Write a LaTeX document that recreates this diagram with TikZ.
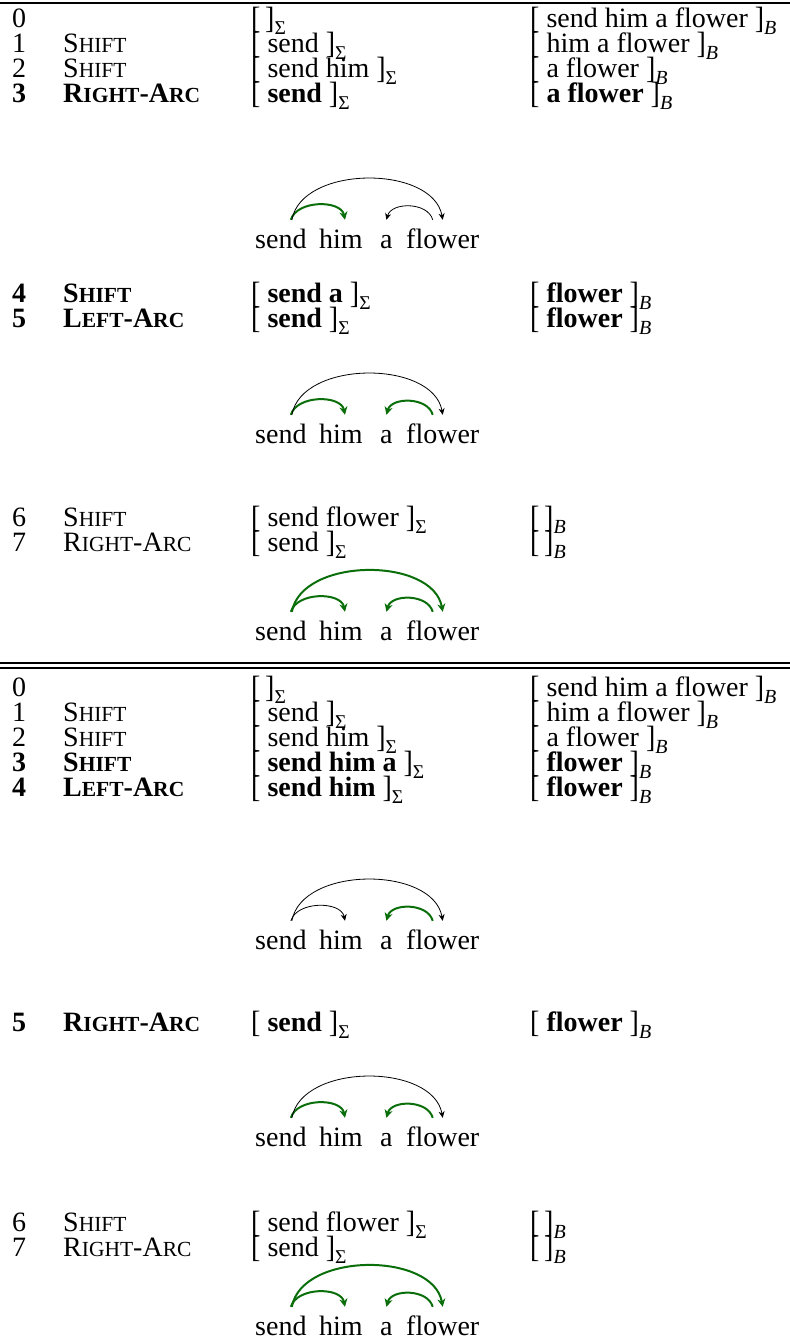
\documentclass[tikz,border=0pt]{standalone}
\usepackage{fontspec}
\setmainfont{Liberation Serif}
\usetikzlibrary{arrows.meta}

\definecolor{arcgreen}{RGB}{10,110,10}

% faked small capitals for the transition names
\newcommand\lsc[1]{{\fontsize{21.5pt}{21.5pt}\selectfont #1}}
\newcommand\opShift{S\lsc{HIFT}}
\newcommand\opRight{R\lsc{IGHT}-A\lsc{RC}}
\newcommand\opLeft{L\lsc{EFT}-A\lsc{RC}}
% slightly tall brackets around stack and buffer
\newcommand\lbr{\raisebox{-1pt}{\scalebox{1}[1.1]{[}}}
\newcommand\rbr{\raisebox{-1pt}{\scalebox{1}[1.1]{]}}}
% stack and buffer subscripts
\newcommand\sigsub{\raisebox{-7pt}{\fontsize{19.5pt}{19.5pt}\selectfont Σ}}
\newcommand\bsub{\raisebox{-7pt}{\fontsize{20pt}{20pt}\selectfont\itshape B}}
\newcommand\stk[1]{\lbr\ #1\ \rbr\sigsub}
\newcommand\buf[1]{\lbr\ #1\ \rbr\bsub}
\newcommand\stkE{\lbr\,\rbr\sigsub}
\newcommand\bufE{\lbr\,\rbr\bsub}

\tikzset{
  cell/.style={anchor=base west, inner sep=0pt, text height=19pt, text depth=5pt,
               font=\fontsize{28pt}{28pt}\selectfont},
  word/.style={anchor=base west, inner sep=0pt, text height=28pt, text depth=0pt,
               font=\fontsize{28pt}{28pt}\selectfont},
  arcb/.style={line width=0.8pt, -{Stealth[length=6.5pt,width=6pt,inset=2pt]}},
  arcg/.style={draw=arcgreen, line width=2pt, -{Stealth[length=8pt,width=8pt,inset=2.5pt]}},
  rulel/.style={line width=1.5pt},
}

% one configuration row: name, baseline, number, transition, stack, buffer
\newcommand\row[6]{%
  \node[cell] (#1n) at (12,#2) {#3};
  \node[cell] (#1o) at (63,#2) {#4};
  \node[cell] (#1k) at (251,#2) {#5};
  \node[cell] (#1b) at (530,#2) {#6};
}
% the first row has no transition
\newcommand\firstrow[4]{%
  \node[cell] (#1n) at (12,#2) {#3};
  \node[cell] (#1k) at (251,#2) {\stkE};
  \node[cell] (#1b) at (530,#2) {#4};
}
% the sentence under construction: name prefix, baseline
\newcommand\sentence[2]{%
  \node[word] (#1s) at (255,#2) {send};
  \node[word] (#1h) at (319,#2) {him};
  \node[word] (#1a) at (380,#2) {a};
  \node[word] (#1f) at (406,#2) {flower};
}
% arcs: send -> him, send -> flower, flower -> a
\newcommand\arcSH[2]{\draw[#2] ([xshift=10pt]#1s.north) .. controls +(6,-20) and +(-4,-20) .. ([xshift=4pt]#1h.north);}
\newcommand\arcSF[2]{\draw[#2] ([xshift=11pt]#1s.north) .. controls +(10,-55) and +(-10,-55) .. (#1f.north);}
\newcommand\arcFA[2]{\draw[#2] ([xshift=-10pt]#1f.north) .. controls +(-5,-18) and +(5,-18) .. (#1a.north);}

\begin{document}
\begin{tikzpicture}[x=1pt, y=-1pt]
\useasboundingbox (0,0) rectangle (790,1342);

% ---------- first derivation ----------
\coordinate (t1) at (0,3);
\coordinate (t2) at (790,3);
\draw[rulel] (t1) -- (t2);

\firstrow{p0}{27}{0}{\buf{send him a flower}}
\row{p1}{52}{1}{\opShift}{\stk{send}}{\buf{him a flower}}
\row{p2}{77}{2}{\opShift}{\stk{send him}}{\buf{a flower}}
\row{p3}{102}{\textbf{3}}{\bfseries\opRight}{\stk{\textbf{send}}}{\buf{\textbf{a flower}}}

\sentence{da}{248}
\arcSH{da}{arcg}
\arcSF{da}{arcb}
\arcFA{da}{arcb}

\row{p4}{302}{\textbf{4}}{\bfseries\opShift}{\stk{\textbf{send a}}}{\buf{\textbf{flower}}}
\row{p5}{327}{\textbf{5}}{\bfseries\opLeft}{\stk{\textbf{send}}}{\buf{\textbf{flower}}}

\sentence{db}{443}
\arcSH{db}{arcg}
\arcSF{db}{arcb}
\arcFA{db}{arcg}

\row{p6}{526}{6}{\opShift}{\stk{send flower}}{\bufE}
\row{p7}{551}{7}{\opRight}{\stk{send}}{\bufE}

\sentence{dc}{640}
\arcSH{dc}{arcg}
\arcSF{dc}{arcg}
\arcFA{dc}{arcg}

% ---------- double rule ----------
\coordinate (m1) at (0,663);
\coordinate (m2) at (790,663);
\coordinate (m3) at (0,668);
\coordinate (m4) at (790,668);
\draw[line width=1.3pt] (m1) -- (m2);
\draw[line width=1.1pt] (m3) -- (m4);

% ---------- second derivation ----------
\firstrow{q0}{696}{0}{\buf{send him a flower}}
\row{q1}{721}{1}{\opShift}{\stk{send}}{\buf{him a flower}}
\row{q2}{746}{2}{\opShift}{\stk{send him}}{\buf{a flower}}
\row{q3}{771}{\textbf{3}}{\bfseries\opShift}{\stk{\textbf{send him a}}}{\buf{\textbf{flower}}}
\row{q4}{796}{\textbf{4}}{\bfseries\opLeft}{\stk{\textbf{send him}}}{\buf{\textbf{flower}}}

\sentence{dd}{949}
\arcSH{dd}{arcb}
\arcSF{dd}{arcb}
\arcFA{dd}{arcg}

\row{q5}{1031}{\textbf{5}}{\bfseries\opRight}{\stk{\textbf{send}}}{\buf{\textbf{flower}}}

\sentence{de}{1146}
\arcSH{de}{arcg}
\arcSF{de}{arcb}
\arcFA{de}{arcg}

\row{q6}{1231}{6}{\opShift}{\stk{send flower}}{\bufE}
\row{q7}{1256}{7}{\opRight}{\stk{send}}{\bufE}

\sentence{df}{1335}
\arcSH{df}{arcg}
\arcSF{df}{arcg}
\arcFA{df}{arcg}
\end{tikzpicture}
\end{document}
